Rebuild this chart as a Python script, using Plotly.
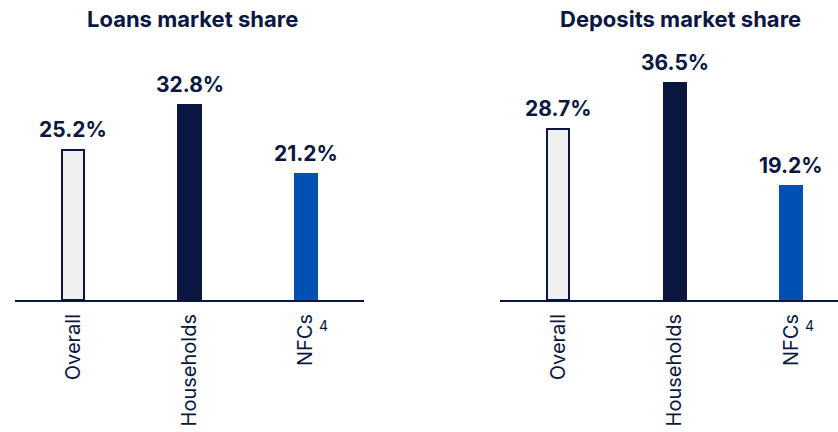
import plotly.graph_objects as go

categories = ["Overall", "Households", "NFCs"]
loans = [25.2, 32.8, 21.2]
deposits = [28.7, 36.5, 19.2]
titles = ["Loans market share", "Deposits market share"]
footnote = "4"

NAVY = "#0B1740"
fills = ["#F0F0F0", "#0B1740", "#0050B4"]
lines = [NAVY, "#0B1740", "#0050B4"]
FONT = "Inter"

fig = go.Figure()
for i, vals in enumerate([loans, deposits]):
    xa = "x" if i == 0 else "x2"
    ya = "y" if i == 0 else "y2"
    fig.add_trace(go.Bar(
        x=categories, y=vals, xaxis=xa, yaxis=ya, width=0.19,
        marker=dict(color=fills, line=dict(color=lines, width=2)),
        hoverinfo="skip", showlegend=False,
    ))
    for c, v in zip(categories, vals):
        fig.add_annotation(x=c, y=v, xref=xa, yref=ya, text=f"{v}%",
                           showarrow=False, yanchor="bottom", yshift=6,
                           font=dict(family=FONT, size=21, color=NAVY, weight="bold"))
    fig.add_annotation(x=categories[2], y=0, xref=xa, yref=ya, text=footnote,
                       showarrow=False, xshift=18, yshift=-25,
                       font=dict(family=FONT, size=14, color=NAVY))

for t, xc in zip(titles, [0.2303, 0.8115]):
    fig.add_annotation(x=xc, y=1 - 19 / 432, xref="paper", yref="paper", text=t,
                       showarrow=False, yanchor="middle", xanchor="center",
                       font=dict(family=FONT, size=22, color=NAVY, weight="bold"))

axis_common = dict(type="category", showgrid=False, zeroline=False, showline=True,
                   linecolor=NAVY, linewidth=2, ticks="", tickangle=-90,
                   tickfont=dict(family=FONT, size=20, color=NAVY), ticklabelstandoff=4,
                   fixedrange=True, automargin=False)
yaxis_common = dict(range=[0, 300 / 5.95], domain=[132 / 432, 1], visible=False,
                    showgrid=False, zeroline=False, fixedrange=True)

fig.update_layout(
    width=838, height=432,
    margin=dict(l=0, r=0, t=0, b=0),
    paper_bgcolor="white", plot_bgcolor="white",
    xaxis=dict(axis_common, domain=[15 / 838, 364 / 838], range=[-0.5, 2.5], anchor="y"),
    xaxis2=dict(axis_common, domain=[500 / 838, 1.0], range=[-0.5, 2.4], anchor="y2"),
    yaxis=dict(yaxis_common, anchor="x"),
    yaxis2=dict(yaxis_common, anchor="x2"),
    bargap=0,
)

fig.write_html("out.html", config={"displayModeBar": False},
               post_script="document.body.style.margin='0';")
